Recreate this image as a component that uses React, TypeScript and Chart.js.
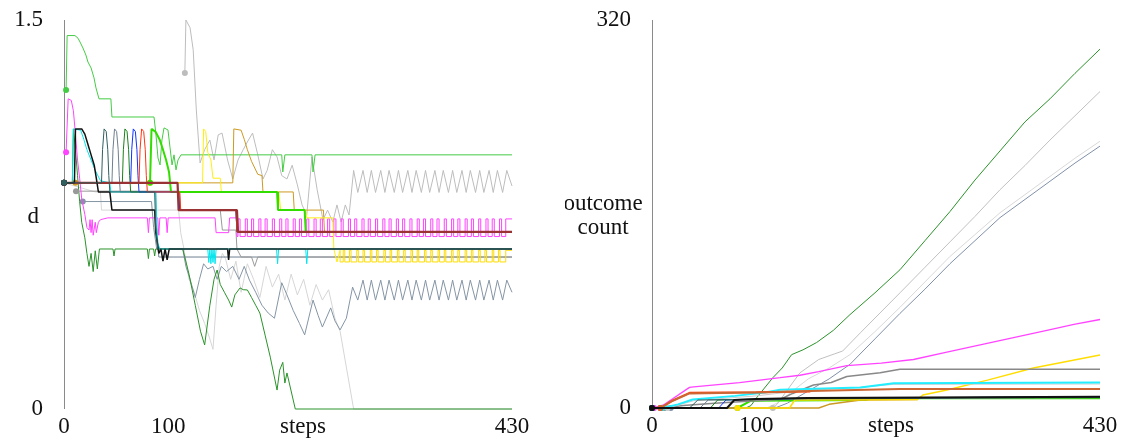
import { useEffect, useRef } from "react";
import { Chart, registerables } from "chart.js";
Chart.register(...registerables);

type P = [number, number];

// ---------- axes / labels ----------
const X_MIN = 0;
const X_MAX = 430;
const xTickValues = [0, 100, 430];
const xTitle = "steps";
const leftYMax = 1.5;
const leftYTickValues = [0, 1.5];
const leftYTitle = ["d"];
const rightYMax = 320;
const rightYTickValues = [0, 320];
const rightYTitle = ["outcome", "count"];

// ---------- left panel: d per step ----------
const L_teal: P[] = [[0,.872],[36,.872],[37,1.0],[38.5,1.08],[40.5,1.07],[42,1.0],[43,.9],[44,.837],[87,.837],[88,.7],[90,.617],[430,.617]];
const L_black: P[] = [[0,.872],[10,.872],[11,1.08],[17,1.08],[20,1.06],[23,1.02],[26,.98],[29,.94],[31,.89],[33,.837],[44,.837],[46,.767],[87,.767],[88,.683],[91,.6],[93,.617],[95,.57],[97,.617],[99,.575],[101,.617],[157,.617],[158,.575],[159,.617],[430,.617]];
const L_brown: P[] = [[0,.872],[109,.872],[110,.767],[166,.767],[167,.683],[430,.683]];
const L_red: P[] = [[0,.872],[72,.872],[73,1.0],[74.5,1.08],[76.5,1.07],[78,1.0],[79,.9],[80,.837],[111,.837],[112,.767],[165,.767],[166,.683],[430,.683]];
const L_blue: P[] = [[0,.872],[64,.872],[65,1.0],[66.5,1.08],[68.5,1.07],[70,1.0],[71,.9],[72,.837],[110,.837],[111,.767],[165,.767],[166,.683],[430,.683]];
const L_dgreen: P[] = [[0,.872],[56,.872],[57,1.0],[58.5,1.08],[60.5,1.07],[62,1.0],[63,.9],[64,.837],[110,.837],[111,.767],[165,.767],[166,.683],[430,.683]];
const L_slateHump: P[] = [[0,.872],[46,.872],[47,1.0],[48.5,1.08],[50.5,1.07],[52,1.0],[53,.9],[54,.837],[88,.837],[89,.7],[91,.586],[430,.586]];
const L_lime: P[] = [[82.6,.872],[84,1.08],[88,1.068],[92,1.037],[95,1.0],[98,.96],[100.8,.914],[102.7,.837],[204.5,.837],[205.4,.767],[231,.767],[232,.683],[430,.683]];
const L_cyan: P[] = [[0,.872],[8,.872],[9,1.08],[16,1.075],[19,1.04],[22,1.0],[26,.96],[30,.92],[35,.88],[44,.872],[45,.837],[88,.837],[89,.7],[90,.64],[92,.617],[138,.617],[139,.565],[140,.617],[141,.56],[142,.617],[143,.565],[144,.617],[145,.56],[146,.617],[204,.617],[205,.56],[206,.617],[232,.617],[233,.56],[234,.617],[430,.617]];
const L_yellow: P[] = [[82.6,.872],[133,.872],[134,1.08],[136,1.07],[138,.99],[141,.96],[143,.89],[150,.89],[151,.837],[206,.837],[208,.767],[232,.767],[233,.737],[258,.737],[259,.617],[262,.567],[265,.612]];
const L_yellowTail: P[] = [[265,.612],[268,.567],[269.5,.612],[274,.567],[275.5,.612],[281,.567],[282.5,.612],[287,.567],[288.5,.612],[294,.567],[295.5,.612],[300,.567],[301.5,.612],[307,.567],[308.5,.612],[313,.567],[314.5,.612],[320,.567],[321.5,.612],[326,.567],[327.5,.612],[333,.567],[334.5,.612],[339,.567],[340.5,.612],[346,.567],[347.5,.612],[352,.567],[353.5,.612],[359,.567],[360.5,.612],[365,.567],[366.5,.612],[372,.567],[373.5,.612],[378,.567],[379.5,.612],[385,.567],[386.5,.612],[391,.567],[392.5,.612],[398,.567],[399.5,.612],[404,.567],[405.5,.612],[411,.567],[412.5,.612],[417,.567],[418.5,.612],[424,.567],[425.5,.612],[430,.612]];
const L_goldenrod: P[] = [[11,.872],[162,.872],[163,1.08],[170,1.075],[173,1.04],[176,1.0],[180,.955],[186,.905],[190,.9],[191,.837],[220,.837],[221,.767],[249,.767],[250,.683],[430,.683]];
const L_magenta: P[] = [[2,.99],[4,1.196],[7,1.19],[9,1.15],[11,1.06],[13,.96],[15,.89],[17,.81],[20,.75],[22,.7],[24,.69],[25,.73],[26,.68],[27,.73],[28,.67],[30,.72],[31,.68],[33,.72],[35,.73],[42,.737],[80,.737],[81,.68],[82,.737],[90,.737],[91,.67],[92,.737],[98,.737],[99,.68],[100,.737],[145,.737],[146,.68],[158,.68],[159,.737],[166,.737]];
const L_magentaTail: P[] = [[166,.733],[167,.665],[169,.733],[174,.665],[176,.733],[180,.665],[182,.733],[187,.665],[189,.733],[193,.665],[195,.733],[200,.665],[202,.733],[207,.665],[209,.733],[213,.665],[215,.733],[220,.665],[222,.733],[226,.665],[228,.733],[233,.665],[235,.733],[240,.665],[242,.733],[246,.665],[248,.733],[253,.665],[255,.733],[259,.665],[261,.733],[266,.665],[268,.733],[273,.665],[275,.733],[279,.665],[281,.733],[286,.665],[288,.733],[292,.665],[294,.733],[299,.665],[301,.733],[306,.665],[308,.733],[312,.665],[314,.733],[319,.665],[321,.733],[325,.665],[327,.733],[332,.665],[334,.733],[339,.665],[341,.733],[345,.665],[347,.733],[352,.665],[354,.733],[358,.665],[360,.733],[365,.665],[367,.733],[372,.665],[374,.733],[378,.665],[380,.733],[385,.665],[387,.733],[391,.665],[393,.733],[398,.665],[400,.733],[405,.665],[407,.733],[411,.665],[413,.733],[418,.665],[420,.733],[424,.665],[426,.733],[430,.733]];
const L_lgreen: P[] = [[2,1.23],[3,1.44],[10.5,1.44],[13.4,1.43],[15.4,1.415],[18.2,1.392],[21,1.365],[23,1.338],[26,1.315],[28.8,1.277],[30.7,1.238],[33.6,1.196],[45,1.196],[46,1.126],[86.4,1.126],[88.3,1.057],[90.2,.968],[92.2,.941],[94,1.037],[96,1.084],[99.8,1.076],[101.8,1.007],[103.7,.941],[105.6,.98],[107.5,.922],[109.4,.96],[112.3,.98],[209,.98],[210,.914],[212,.98],[238,.98],[239,.914],[241,.98],[430,.98]];
const L_gray: P[] = [[11.5,.84],[111,.84],[112,.767],[150,.767],[152,.69],[165,.69],[166,.617],[170,.586],[180,.586],[183,.55],[186,.586],[430,.586]];
const L_forest: P[] = [[0,.872],[8,.872],[9,1.08],[11,1.0],[13,.9],[15,.8],[17,.72],[20,.66],[22,.6],[24,.55],[26,.6],[28,.53],[30,.61],[32,.54],[34,.617],[47,.617],[48,.59],[49,.617],[80,.617],[81,.58],[82,.617],[86,.617],[87,.59],[88,.617],[114,.617],[120,.52],[126,.4],[131,.3],[135,.247],[140,.4],[144,.5],[147,.536],[150,.48],[154,.45],[158,.42],[161,.393],[164,.44],[169,.467],[172,.46],[176,.459],[180,.43],[184,.4],[188,.37],[193,.285],[198,.2],[204.5,.073],[207,.15],[210,.18],[212,.1],[214,.139],[222,0],[430,0]];
const L_slate: P[] = [[18,.80],[84,.80],[86,.7],[89,.617],[114,.617],[117,.55],[121,.5],[126,.43],[130,.5],[134,.56],[138,.54],[143,.55],[147,.5],[151,.55],[156,.53],[162,.55],[168,.5],[173,.55],[178,.497],[184,.45],[190,.4],[196,.37],[202,.35],[209,.487],[214,.44],[220,.38],[226,.33],[231,.286],[239,.42],[244,.36],[248,.316],[256,.39],[260,.34],[265,.305],[271,.35],[277,.47],[282,.42],[287,.497],[291,.42],[295,.497],[299,.42],[304,.497],[308,.42],[312,.497],[317,.42],[321,.497],[325,.42],[330,.497],[334,.42],[338,.497],[343,.42],[347,.497],[351,.42],[356,.497],[360,.42],[364,.497],[369,.42],[373,.497],[377,.42],[382,.497],[386,.42],[390,.497],[395,.42],[399,.497],[403,.42],[408,.497],[412,.42],[416,.497],[421,.42],[425,.497],[430,.45]];
const L_silver: P[] = [[116,1.296],[117,1.5],[121,1.47],[124,1.385],[127,1.153],[130.6,.949],[135,1.0],[140,1.037],[144,.96],[148,1.057],[151.7,1.064],[157,.96],[162,.887],[167,.96],[172,1.0],[177,1.037],[181,1.064],[186,.98],[191,.887],[195,.92],[200,1.0],[204.5,.972],[209,.9],[214,.887],[219,.94],[224,.864],[228.5,.787],[233,.748],[238,.972],[243,.845],[248.6,.729],[253,.767],[258,.721],[262,.787],[266,.721],[270,.787],[273.6,.748],[278,.92],[282,.835],[287,.92],[291,.835],[295,.92],[299,.835],[304,.92],[308,.835],[312,.92],[317,.835],[321,.92],[325,.835],[330,.92],[334,.835],[338,.92],[343,.835],[347,.92],[351,.835],[356,.92],[360,.835],[364,.92],[369,.835],[373,.92],[377,.835],[382,.92],[386,.835],[390,.92],[395,.835],[399,.92],[403,.835],[408,.92],[412,.835],[416,.92],[421,.835],[425,.92],[430,.86]];
const L_lightgray: P[] = [[0,.872],[30,.837],[35,.837],[36,.767],[110,.767],[112,.68],[115,.62],[120,.5],[125,.45],[130,.38],[135,.33],[140,.27],[143,.23],[146,.4],[149,.55],[152,.6],[155,.58],[160,.5],[165,.57],[170,.45],[176,.56],[182,.5],[188,.43],[194,.55],[200,.47],[206,.52],[212,.42],[218,.52],[224,.44],[230,.5],[236,.4],[242,.48],[248,.42],[254,.46],[260,.35],[265,.3],[278,0],[430,0]];

// ---------- right panel: outcome count per step ----------
const R_black: P[] = [[0,0],[72,0],[79,6.6],[100,7.5],[150,8.3],[430,9.3]];
const R_teal: P[] = [[0,0],[36,0],[44,6.6],[80,7],[150,8.2],[430,9.2]];
const R_slateHump: P[] = [[0,0],[46,0],[54,6.6],[150,7.5],[430,8.5]];
const R_dgreen: P[] = [[0,0],[56,0],[63,6.6],[150,8],[430,9.2]];
const R_blue: P[] = [[0,0],[64,0],[71,6.6],[150,8],[430,9.2]];
const R_chocolate: P[] = [[8,0],[20,6],[36,12],[110,13],[152,14],[238,15.7],[430,15.7]];
const R_orangered: P[] = [[8,0],[20,6.3],[36,12.5],[100,13],[152,13.6]];
const R_cyan: P[] = [[10,0],[25,3],[39,7],[80,10],[110,13],[123,15],[200,17],[232,20.5],[430,21]];
const R_lgray2: P[] = [[15,0],[40,6],[100,10],[150,15],[200,17],[232,19.5],[430,19.8]];
const R_gray: P[] = [[12,0],[30,2],[60,4],[100,6],[123,7],[135,12],[155,19],[172,21],[187,26],[219,29],[238,32],[430,32]];
const R_magenta: P[] = [[2,0],[11,2.5],[36,17],[40,17.5],[84,21],[123,25],[142,27],[160,30],[187,35],[220,37],[251,40],[283,46],[315,52],[347,58],[379,64],[405,69],[430,73]];
const R_yellow: P[] = [[82,0],[132,0],[137,6.6],[255,7],[260,10.7],[283,14.8],[322,23],[366,33],[430,43.7]];
const R_goldenrod: P[] = [[11,0],[160,0],[170,3],[200,6.6],[255,7]];
const R_lime: P[] = [[82,0],[95,6],[205,6.6],[210,8],[430,8]];
const R_forest: P[] = [[0,0],[90,0],[95,2],[100,8],[116,25],[125,33],[134,44],[145,48],[158,54],[174,64],[190,77],[214,95],[238,114],[262,138],[286,162],[310,188],[334,212],[358,236],[382,255],[406,276],[430,296]];
const R_silver: P[] = [[116,0],[120,3],[130,15],[142,29],[160,40],[183,47],[200,62],[238,95],[262,116],[286,137],[310,158],[334,180],[358,200],[382,221],[406,241],[430,261]];
const R_lightgray: P[] = [[0,0],[110,0],[120,4],[135,14],[150,24],[170,33],[190,44],[214,63],[238,83],[262,104],[286,125],[310,143],[334,161],[358,176],[382,191],[406,206],[430,220]];
const R_slate: P[] = [[18,0],[118,0],[130,4],[150,14],[170,24],[190,36],[214,57],[238,78],[262,98],[286,119],[310,138],[334,157],[358,172],[382,187],[406,202],[430,216]];

// ---------- helpers ----------
function line(data: P[], color: string, width = 1, extra: any = {}) {
  return {
    data: data.map(([x, y]) => ({ x, y })),
    borderColor: color,
    backgroundColor: color,
    borderWidth: width,
    pointRadius: (c: any) => (c.dataIndex === 0 ? 3 : 0),
    pointBorderWidth: 0,
    pointHoverRadius: 0,
    borderJoinStyle: "bevel",
    fill: false,
    tension: 0,
    clip: false,
    ...extra,
  };
}
const tail = { pointRadius: 0, stepped: "after" };

const FONT = '23px "Liberation Serif", "Times New Roman", serif';

function axesPlugin(yTicks: number[], yTitle: string[], titleAlign: "right" | "center", titleDx: number) {
  return {
    id: "manualAxes",
    beforeDatasetsDraw(chart: any) {
      const { ctx, chartArea: a, scales } = chart;
      const xs = scales.x;
      const ys = scales.y;
      ctx.save();
      ctx.strokeStyle = "#8a8a8a";
      ctx.lineWidth = 1;
      const ax = Math.round(a.left) + 0.5;
      ctx.beginPath();
      ctx.moveTo(ax, a.top);
      ctx.lineTo(ax, a.bottom);
      ctx.stroke();
      ctx.fillStyle = "#111";
      ctx.font = FONT;
      ctx.textBaseline = "middle";
      ctx.textAlign = "right";
      yTicks.forEach((v) => ctx.fillText(String(v), a.left - 21, ys.getPixelForValue(v)));
      ctx.textAlign = titleAlign;
      const midY = (a.top + a.bottom) / 2 + 2;
      const lh = 24;
      yTitle.forEach((t, i) => ctx.fillText(t, a.left + titleDx, midY + (i - (yTitle.length - 1) / 2) * lh));
      ctx.textAlign = "center";
      const ly = a.bottom + 18;
      xTickValues.forEach((v) => ctx.fillText(String(v), xs.getPixelForValue(v), ly));
      ctx.fillText(xTitle, (a.left + a.right) / 2 + 15, ly);
      ctx.restore();
    },
  };
}

function makeConfig(datasets: any[], yMax: number, pad: any, plugin: any) {
  return {
    type: "line",
    data: { datasets },
    options: {
      animation: false,
      responsive: false,
      maintainAspectRatio: false,
      devicePixelRatio: 1,
      events: [],
      layout: { padding: pad },
      plugins: { legend: { display: false }, tooltip: { enabled: false }, title: { display: false } },
      scales: {
        x: { type: "linear", min: X_MIN, max: X_MAX, display: false },
        y: { type: "linear", min: 0, max: yMax, display: false },
      },
    },
    plugins: [plugin],
  };
}

export default function App() {
  const leftRef = useRef<HTMLCanvasElement>(null);
  const rightRef = useRef<HTMLCanvasElement>(null);

  useEffect(() => {
    const leftSets = [
      line(L_teal, "#2f5f5f"),
      line(L_black, "#111111", 1.5),
      line(L_brown, "#993333", 2.2),
      line(L_red, "#ff3311"),
      line(L_blue, "#1133ff"),
      line(L_dgreen, "#1a801a"),
      line(L_lime, "#33dd00", 2),
      line(L_cyan, "#00e5ee"),
      line(L_yellow, "#ffee11"),
      line(L_yellowTail, "#ffdd00", 1, tail),
      line(L_goldenrod, "#cc9922"),
      line(L_magenta, "#ff44ff"),
      line(L_magentaTail, "#ff44ff", 1, tail),
      line(L_lgreen, "#44cc44"),
      line(L_gray, "#999999"),
      line(L_slateHump, "#6f7f8f"),
      line(L_forest, "#2a922a"),
      line(L_slate, "#8595a5"),
      line(L_silver, "#bdbdbd"),
      line(L_lightgray, "#d6d6d6"),
    ];
    const rightSets = [
      line(R_black, "#111111", 2),
      line(R_teal, "#2f5f5f"),
      line(R_dgreen, "#1a801a"),
      line(R_blue, "#1133ff"),
      line(R_slateHump, "#6f7f8f"),
      line(R_chocolate, "#cc6633", 2),
      line(R_orangered, "#ff4411", 2),
      line(R_cyan, "#22eeff", 2),
      line(R_lgray2, "#cccccc"),
      line(R_gray, "#888888", 1.5),
      line(R_magenta, "#ff44ff", 1.3),
      line(R_yellow, "#ffdd00", 1.5),
      line(R_goldenrod, "#cc9922", 1.5),
      line(R_lime, "#33dd00", 2),
      line(R_forest, "#2a922a"),
      line(R_silver, "#c0c0c0"),
      line(R_lightgray, "#d8d8d8"),
      line(R_slate, "#8090a8"),
    ];
    const left = new Chart(
      leftRef.current as HTMLCanvasElement,
      makeConfig(leftSets, leftYMax, { left: 64, right: 53, top: 20, bottom: 35 },
        axesPlugin(leftYTickValues, leftYTitle, "right", -25)) as any
    );
    const right = new Chart(
      rightRef.current as HTMLCanvasElement,
      makeConfig(rightSets, rightYMax, { left: 87, right: 30, top: 20, bottom: 36 },
        axesPlugin(rightYTickValues, rightYTitle, "center", -49)) as any
    );
    return () => {
      left.destroy();
      right.destroy();
    };
  }, []);

  return (
    <div style={{ position: "fixed", left: 0, top: 0, width: 1130, height: 444, background: "#fff" }}>
      <canvas ref={leftRef} width={565} height={444} style={{ position: "absolute", left: 0, top: 0, width: 565, height: 444 }} />
      <canvas ref={rightRef} width={565} height={444} style={{ position: "absolute", left: 565, top: 0, width: 565, height: 444 }} />
    </div>
  );
}
